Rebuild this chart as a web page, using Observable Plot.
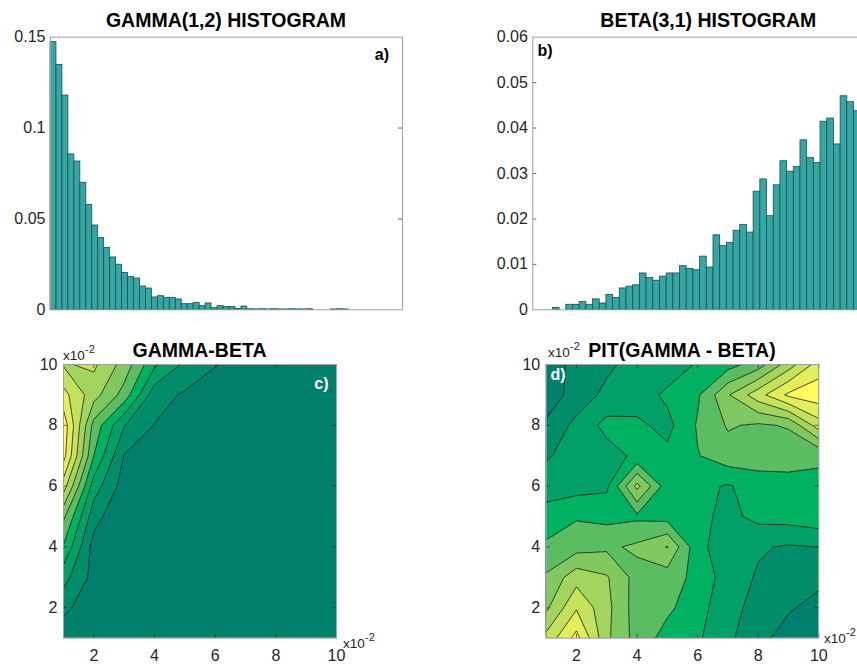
<!DOCTYPE html>
<html>
<head>
<meta charset="utf-8">
<script src="https://cdn.jsdelivr.net/npm/d3@7"></script>
<script src="https://cdn.jsdelivr.net/npm/@observablehq/plot@0.6"></script>
<style>
  body { margin: 0; background: #fff; }
  #fig { position: relative; width: 857px; height: 664px; overflow: hidden; background: #fff;
         font-family: "Liberation Sans", Arial, Helvetica, sans-serif; }
  #fig > svg { position: absolute; }
</style>
</head>
<body>
<div id="fig"></div>
<script>
// ---- Histogram data: relative frequency per bin ----
const gammaDensity = [
  0.1473, 0.1348, 0.1179, 0.0855, 0.0816, 0.0699, 0.0576, 0.0464, 0.0396, 0.0341,
  0.0288, 0.0248, 0.0202, 0.0180, 0.0172, 0.0128, 0.0117, 0.0068, 0.0075, 0.0066,
  0.0066, 0.0057, 0.0031, 0.0031, 0.0037, 0.0020, 0.0035, 0.0009, 0.0020, 0.0015,
  0.0015, 0.0004, 0.0018, 0.0003, 0.0002, 0.0003, 0.0002, 0.0003, 0.0002, 0.0002,
  0.0003, 0.0002, 0.0002, 0.0003, 0, 0, 0, 0.0002, 0.0003, 0.0002
];
const betaDensity = [
  0, 0, 0, 0.0004, 0, 0.0011, 0.0011, 0.0017, 0.0011, 0.0023,
  0.0014, 0.0033, 0.0026, 0.0047, 0.0051, 0.0054, 0.0080, 0.0070, 0.0064, 0.0073,
  0.0080, 0.0080, 0.0096, 0.0090, 0.0087, 0.0117, 0.0093, 0.0164, 0.0140, 0.0147,
  0.0174, 0.0187, 0.0170, 0.0260, 0.0287, 0.0206, 0.0274, 0.0327, 0.0304, 0.0314,
  0.0373, 0.0334, 0.0323, 0.0414, 0.0421, 0.0364, 0.0470, 0.0457, 0.0437, 0.0500
];
const gammaTicks = [0, 0.05, 0.1, 0.15];
const betaTicks = [0, 0.01, 0.02, 0.03, 0.04, 0.05, 0.06];

// ---- Contour data: 10x10 grids on 1..10 (x10^-2), rows listed from y = 10 down to y = 1 ----
const gridTicks = [2, 4, 6, 8, 10];
const contourLevels = [0, 1, 2, 3, 4, 5, 6, 7, 8, 9];
const bandColors = ["#00806a", "#008e6a", "#00a066", "#00b162", "#5abd62",
                    "#80c860", "#a3d45e", "#c4e25c", "#e2ee5c", "#fdfc5e"];

const gammaBetaRows = [
  [6.9, 7.2, 5.6, 3.2, 1.8, 1.05, 0.5, 0.2, 0.1, 0.1],
  [8.35, 6.4, 4.6, 1.4, 0.87, 0.5, 0.3, 0.1, 0.1, 0.05],
  [9.65, 4.65, 2.05, 0.97, 0.45, 0.2, 0.1, 0.1, 0.05, 0.05],
  [9.38, 4.0, 0.95, 0.4, 0.2, 0.1, 0.1, 0.05, 0.05, 0.05],
  [7.5, 2.5, 0.55, 0.2, 0.1, 0.1, 0.05, 0.05, 0.05, 0.05],
  [5.2, 1.4, 0.05, 0.1, 0.05, 0.05, 0.05, 0.05, 0.05, 0.05],
  [3.9, 0.6, 0.1, 0.05, 0.05, 0.05, 0.05, 0.05, 0.05, 0.05],
  [2.36, 0.66, 0.1, 0.05, 0.05, 0.05, 0.05, 0.05, 0.05, 0.05],
  [1.3, 0.2, 0.05, 0.05, 0.05, 0.05, 0.05, 0.05, 0.05, 0.05],
  [0.2, 0.05, 0.05, 0.05, 0.05, 0.05, 0.05, 0.05, 0.05, 0.05]
];
const pitRows = [
  [0.3, 1.4, 1.75, 2.5, 2.4, 3.1, 3.6, 4.5, 6.5, 8.47],
  [0.5, 1.36, 2.3, 2.5, 3.2, 3.85, 5.9, 7.6, 9.2, 9.6],
  [1.15, 2.3, 3.3, 3.2, 2.7, 4.1, 5.1, 4.85, 5.1, 7.53],
  [1.92, 2.3, 2.6, 3.2, 3.25, 3.95, 4.6, 4.5, 4.35, 4.1],
  [2.44, 2.6, 2.8, 6.3, 3.4, 3.3, 2.9, 3.5, 3.7, 3.85],
  [3.5, 3.9, 3.7, 3.8, 3.6, 3.3, 2.7, 3.3, 3.4, 3.66],
  [4.15, 4.6, 4.8, 5.2, 6.05, 3.3, 2.4, 2.1, 1.9, 2.01],
  [5.15, 6.6, 6.1, 4.6, 4.5, 3.7, 2.5, 1.9, 1.6, 1.23],
  [5.8, 7.9, 6.3, 4.5, 4.2, 3.4, 2.3, 1.7, 1.1, 0.7],
  [7.3, 9.35, 6.2, 4.6, 3.6, 3.15, 2.2, 1.3, 0.6, 0.3]
];

// ---- Shared styling ----
const FONT = "'Liberation Sans', Arial, Helvetica, sans-serif";
const INK = "#262626";
const FRAME = "#a0a0a0";
const BAR_FILL = "#35a6a3";
const BAR_EDGE = "#1b504e";
const fig = document.getElementById("fig");
const baseStyle = {fontFamily: FONT, fontSize: "16px", color: INK, background: "transparent", overflow: "visible"};

function place(node, left, top) {
  node.style.left = left + "px";
  node.style.top = top + "px";
  fig.append(node);
}

// Histogram panel: bins of unit width along x, inward ticks on both sides.
function histogram(values, ticks, {width, marginLeft, xMax, left}) {
  const frameW = 352, frameH = 272.6;
  const bins = values.map((v, i) => ({i, v})).filter(d => d.v > 0);
  const inner = ticks.slice(1, -1);
  return place(Plot.plot({
    width, height: 330,
    marginLeft, marginRight: width - marginLeft - frameW, marginTop: 36.7, marginBottom: 330 - 36.7 - frameH,
    style: baseStyle,
    x: {domain: [0, xMax], axis: null},
    y: {domain: [ticks[0], ticks[ticks.length - 1]], axis: null},
    marks: [
      Plot.ruleY(inner, {y: d => d, insetRight: frameW - 4, stroke: INK, strokeWidth: 0.7}),
      Plot.ruleY(inner, {y: d => d, insetLeft: frameW - 4, stroke: INK, strokeWidth: 0.7}),
      Plot.rect(bins, {x1: "i", x2: d => d.i + 1, y1: 0, y2: "v", fill: BAR_FILL, stroke: BAR_EDGE, strokeWidth: 0.8}),
      Plot.axisY(ticks, {tickSize: 0, tickPadding: 5, tickFormat: d => String(d), label: null, fontSize: 16}),
      Plot.frame({stroke: FRAME})
    ]
  }), left, 0);
}

// Filled contour panel drawn from a 10x10 grid sampled at 1..10.
function contourPanel(rows, {left, top, marginLeft, frameW}) {
  const width = 428, height = 334, frameH = 273.7;
  const values = rows.slice().reverse().flat();
  return place(Plot.plot({
    width, height,
    marginLeft, marginRight: width - marginLeft - frameW, marginTop: 34, marginBottom: height - 34 - frameH,
    style: baseStyle,
    x: {domain: [1, 10], axis: null},
    y: {domain: [1, 10], axis: null},
    color: {type: "ordinal", domain: contourLevels, range: bandColors},
    marks: [
      Plot.contour(values, {
        width: 10, height: 10, x1: 0.5, x2: 10.5, y1: 0.5, y2: 10.5,
        thresholds: contourLevels, fill: Plot.identity,
        stroke: "#151515", strokeWidth: 0.75, clip: true
      }),
      Plot.ruleX(gridTicks, {x: d => d, insetTop: frameH - 4, stroke: INK, strokeWidth: 0.7}),
      Plot.ruleX(gridTicks, {x: d => d, insetBottom: frameH - 4, stroke: INK, strokeWidth: 0.7}),
      Plot.ruleY(gridTicks, {y: d => d, insetRight: frameW - 4, stroke: INK, strokeWidth: 0.7}),
      Plot.ruleY(gridTicks, {y: d => d, insetLeft: frameW - 4, stroke: INK, strokeWidth: 0.7}),
      Plot.axisX(gridTicks, {tickSize: 0, tickPadding: 11, label: null, fontSize: 16}),
      Plot.axisY(gridTicks, {tickSize: 0, tickPadding: 6, label: null, fontSize: 16}),
      Plot.frame({stroke: FRAME})
    ]
  }), left, top);
}

histogram(gammaDensity, gammaTicks, {width: 420, marginLeft: 50, xMax: 59, left: 0});
histogram(betaDensity, betaTicks, {width: 470, marginLeft: 102.3, xMax: 52.6, left: 430});
contourPanel(gammaBetaRows, {left: 0, top: 330, marginLeft: 63, frameW: 273});
contourPanel(pitRows, {left: 430, top: 330, marginLeft: 115.7, frameW: 272.6});

// ---- Titles, panel letters and exponent labels ----
const ann = d3.create("svg")
  .attr("width", 857).attr("height", 664)
  .style("left", "0px").style("top", "0px").style("pointer-events", "none")
  .attr("font-family", FONT);

const titles = [
  {text: "GAMMA(1,2) HISTOGRAM", x: 226, y: 27.4},
  {text: "BETA(3,1) HISTOGRAM", x: 708.3, y: 27.4},
  {text: "GAMMA-BETA", x: 199.5, y: 356.6},
  {text: "PIT(GAMMA - BETA)", x: 682, y: 356.6}
];
ann.selectAll("text.title").data(titles).join("text")
  .attr("class", "title")
  .attr("x", d => d.x).attr("y", d => d.y)
  .attr("text-anchor", "middle").attr("font-weight", "bold").attr("font-size", 19.5).attr("fill", "#000")
  .text(d => d.text);

const letters = [
  {text: "a)", x: 389, y: 59.5, anchor: "end", fill: "#000"},
  {text: "b)", x: 537.5, y: 55.5, anchor: "start", fill: "#000"},
  {text: "c)", x: 328.5, y: 388.5, anchor: "end", fill: "#fff"},
  {text: "d)", x: 550.5, y: 380, anchor: "start", fill: "#fff"}
];
ann.selectAll("text.letter").data(letters).join("text")
  .attr("class", "letter")
  .attr("x", d => d.x).attr("y", d => d.y)
  .attr("text-anchor", d => d.anchor).attr("font-weight", "bold").attr("font-size", 16).attr("fill", d => d.fill)
  .text(d => d.text);

const exponents = [
  {x: 63, y: 360}, {x: 343, y: 648},
  {x: 548, y: 357}, {x: 824, y: 643}
];
const ex = ann.selectAll("g.exp").data(exponents).join("g").attr("class", "exp")
  .attr("transform", d => `translate(${d.x},${d.y})`).attr("fill", INK);
ex.append("text").attr("font-size", 13.5).text("x10");
ex.append("text").attr("x", 22).attr("y", -7).attr("font-size", 11).text("-2");

fig.append(ann.node());
</script>
</body>
</html>
